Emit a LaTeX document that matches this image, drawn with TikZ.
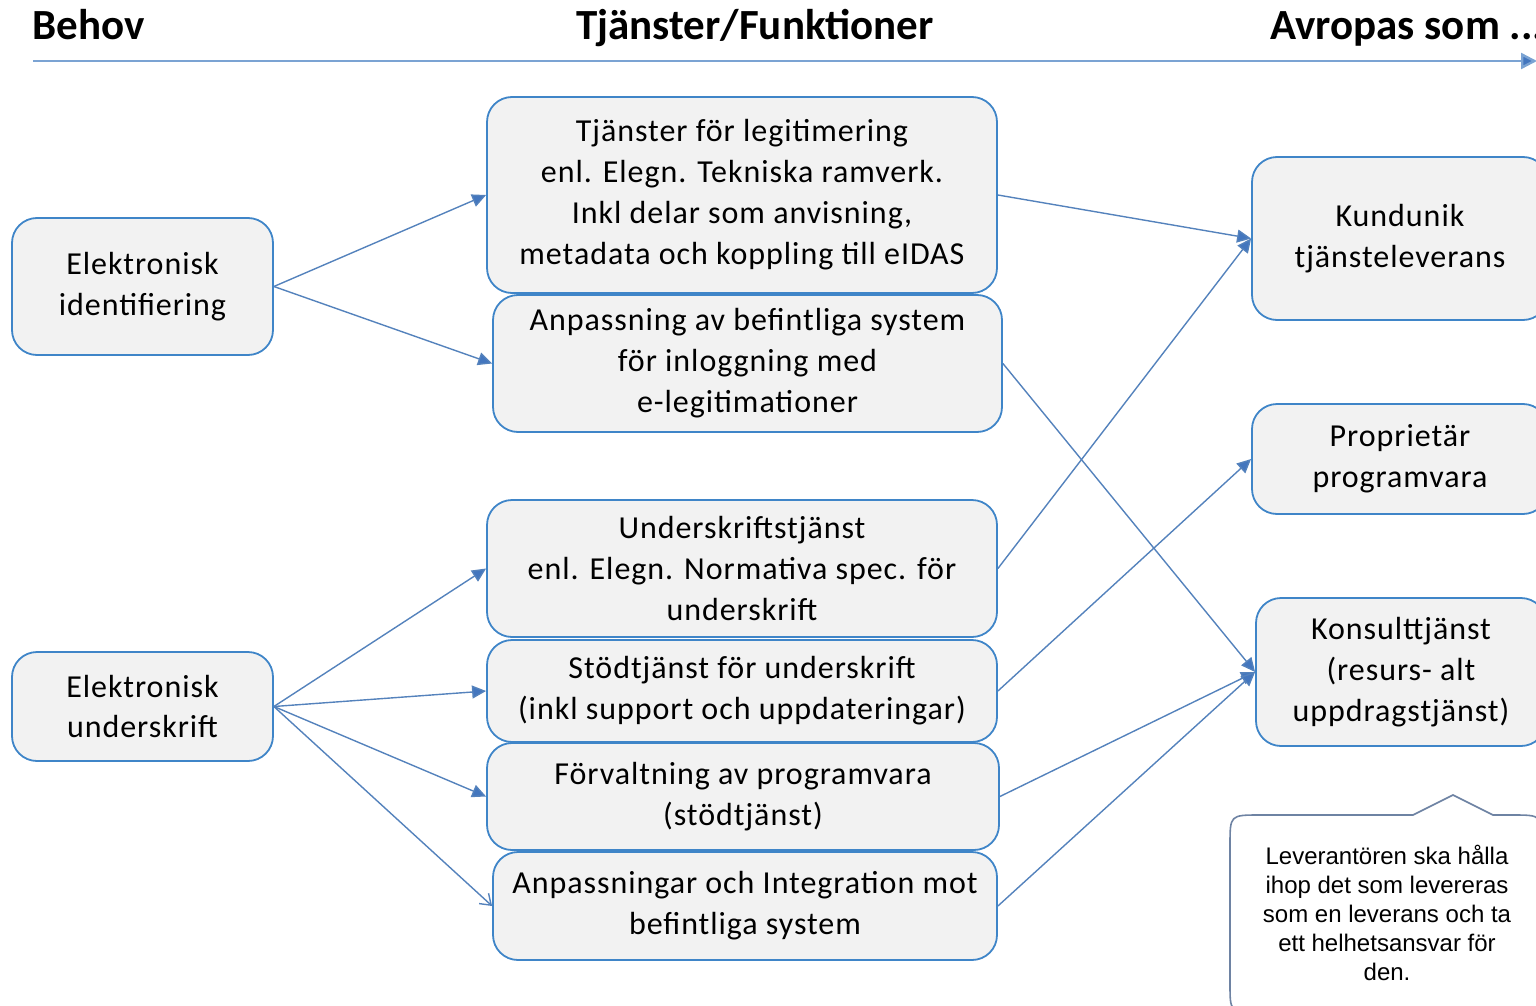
\documentclass[tikz,border=0pt]{standalone}
\usepackage{fontspec}
\setmainfont{Carlito}
\newfontfamily\boxfont{Carlito}[LetterSpace=3]
\newfontfamily\calloutfont{Liberation Sans}
\usetikzlibrary{arrows.meta}
\definecolor{boxblue}{HTML}{3F85C8}
\definecolor{boxfill}{HTML}{F2F2F2}
\definecolor{linkblue}{HTML}{5482BC}
\definecolor{tipblue}{HTML}{4376BE}
\definecolor{headline}{HTML}{7BA3D3}
\definecolor{calloutgrey}{HTML}{6E83A3}
\tikzset{
  box/.style={draw=boxblue, fill=boxfill, rounded corners=12.5pt, line width=0.9pt,
    align=center, inner sep=0pt, font=\boxfont\fontsize{16}{20.5}\selectfont},
  link/.style={draw=linkblue, line width=0.7pt,
    -{Triangle[length=7pt,width=6.5pt,fill=tipblue]}},
  openlink/.style={draw=linkblue, line width=0.7pt, -{Straight Barb[length=5pt,width=7pt]}},
  header/.style={font=\fontsize{21.5}{24}\selectfont\bfseries, inner sep=0pt}
}
\begin{document}
\begin{tikzpicture}[x=0.5pt,y=-0.5pt]
\useasboundingbox (0,0) rectangle (1536,1006);
% headers
\node[header, anchor=base west] (h1) at (32,40) {Behov};
\node[header, anchor=base] (h2) at (755,40) {Tjänster/Funktioner};
\node[header, anchor=base west] (h3) at (1270,40) {Avropas som ...};
\coordinate (hl) at (33,61);
\coordinate (hr) at (1537,61);
\draw[draw=headline, line width=1.2pt, -{Triangle[length=8pt,width=8pt,fill=tipblue]}] (hl) -- (hr);
% left column
\node[box, minimum width=130.5pt, minimum height=68.5pt] (ei) at (142.5,286.5) {Elektronisk\\identifiering};
\node[box, minimum width=130.5pt, minimum height=54.5pt] (eu) at (142.5,706.5) {Elektronisk\\underskrift};
% middle column
\node[box, minimum width=255pt, minimum height=98pt] (t1) at (742,195) {Tjänster för legitimering\\enl. Elegn. Tekniska ramverk.\\Inkl delar som anvisning,\\metadata och koppling till eIDAS};
\node[box, minimum width=254.5pt, minimum height=68.5pt] (t2) at (747.5,363.5) {Anpassning av befintliga system\\för inloggning med\\e-legitimationer};
\node[box, minimum width=255pt, minimum height=68.5pt] (u1) at (742,568.5) {Underskriftstjänst\\enl. Elegn. Normativa spec. för\\underskrift};
\node[box, minimum width=255pt, minimum height=51pt] (u2) at (742,691) {Stödtjänst för underskrift\\(inkl support och uppdateringar)};
\node[box, minimum width=256pt, minimum height=53.5pt] (u3) at (743,796.5) {Förvaltning av programvara\\(stödtjänst)};
\node[box, minimum width=252pt, minimum height=54pt] (u4) at (745,906) {Anpassningar och Integration mot\\befintliga system};
% right column
\node[box, minimum width=148pt, minimum height=81.5pt] (k) at (1400,238.5) {Kundunik\\tjänsteleverans};
\node[box, minimum width=148pt, minimum height=55pt] (p) at (1400,459) {Proprietär\\programvara};
\node[box, minimum width=145pt, minimum height=74pt] (c) at (1401,672) {Konsulttjänst\\(resurs- alt\\uppdragstjänst)};
% connectors
\draw[link] (ei.east) -- (t1.west);
\draw[link] (ei.east) -- (t2.west);
\draw[link] (eu.east) -- (u1.west);
\draw[link] (eu.east) -- (u2.west);
\draw[link] (eu.east) -- (u3.west);
\draw[openlink] (eu.east) -- (u4.west);
\draw[link] (t1.east) -- (k.west);
\draw[link] (u1.east) -- (k.west);
\draw[link] (u2.east) -- (p.west);
\draw[link] (t2.east) -- (c.west);
\draw[link] (u3.east) -- (c.west);
\draw[link] (u4.east) -- (c.west);
% callout
\draw[draw=calloutgrey, line width=0.8pt] (1542,1012) -- (1258,1012) .. controls (1230,1012) .. (1230,984) -- (1230,845) .. controls (1230,815) .. (1260,815) -- (1413,815) -- (1453,795) -- (1493,815) -- (1512,815) .. controls (1542,815) .. (1542,845) -- (1542,1012);
\node[align=center, inner sep=0pt, font=\calloutfont\fontsize{12}{14.5}\selectfont] (note) at (1387,913) {Leverantören ska hålla\\ihop det som levereras\\som en leverans och ta\\ett helhetsansvar för\\den.};
\end{tikzpicture}
\end{document}
